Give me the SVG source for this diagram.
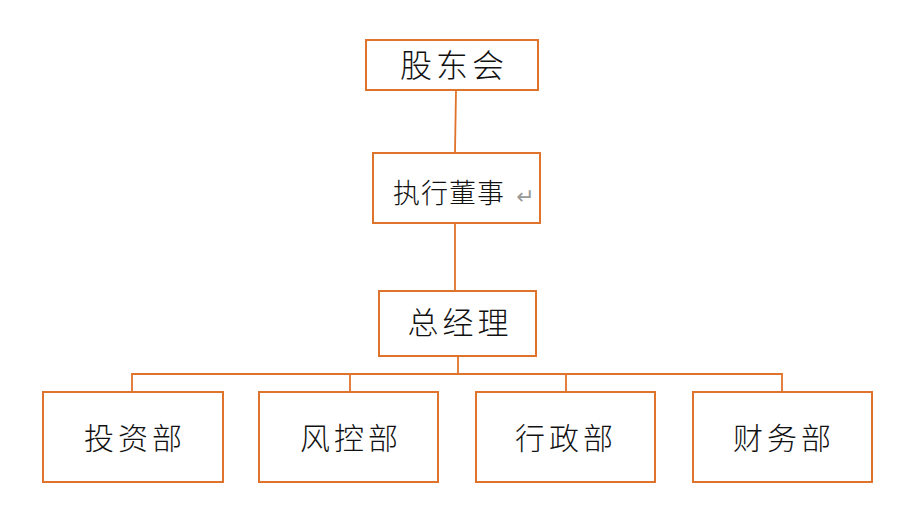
<svg xmlns="http://www.w3.org/2000/svg" width="905" height="512" viewBox="0 0 905 512">
<style>
.box{fill:#fff;stroke:#E0732C;stroke-width:2}
.ln{fill:none;stroke:#E0732C;stroke-width:1.8}
.t{font-family:"Noto Sans CJK SC","Noto Sans CJK JP",sans-serif;font-weight:300;fill:#111;text-anchor:middle}
</style>
<rect width="905" height="512" fill="#fff"/>
<g id="connectors">
<line class="ln" x1="456" y1="90" x2="455" y2="153"/>
<line class="ln" x1="455" y1="223" x2="455" y2="291"/>
<line class="ln" x1="458" y1="356" x2="458" y2="374"/>
<polyline class="ln" points="132,392 132,374 782,374 782,392"/>
<line class="ln" x1="350" y1="374" x2="350" y2="392"/>
<line class="ln" x1="566" y1="374" x2="566" y2="392"/>
</g>
<g id="n1"><rect class="box" x="366" y="40" width="172" height="50"/><text class="t" x="454" y="77" font-size="32" letter-spacing="4">股东会</text></g>
<g id="n2"><rect class="box" x="373" y="153" width="167" height="70"/><text class="t" x="449" y="203" font-size="27" letter-spacing="1">执行董事</text><text x="516" y="204" font-family="DejaVu Sans,sans-serif" font-size="22" fill="#999">↵</text></g>
<g id="n3"><rect class="box" x="379" y="291" width="157" height="65"/><text class="t" x="460" y="334" font-size="31" letter-spacing="4">总经理</text></g>
<g id="n4"><rect class="box" x="43" y="392" width="180" height="90"/><text class="t" x="135" y="449" font-size="30" letter-spacing="4">投资部</text></g>
<g id="n5"><rect class="box" x="259" y="392" width="179" height="90"/><text class="t" x="351" y="449" font-size="30" letter-spacing="4">风控部</text></g>
<g id="n6"><rect class="box" x="476" y="392" width="179" height="90"/><text class="t" x="566" y="449" font-size="30" letter-spacing="4">行政部</text></g>
<g id="n7"><rect class="box" x="693" y="392" width="179" height="90"/><text class="t" x="784" y="449" font-size="30" letter-spacing="4">财务部</text></g>
</svg>
